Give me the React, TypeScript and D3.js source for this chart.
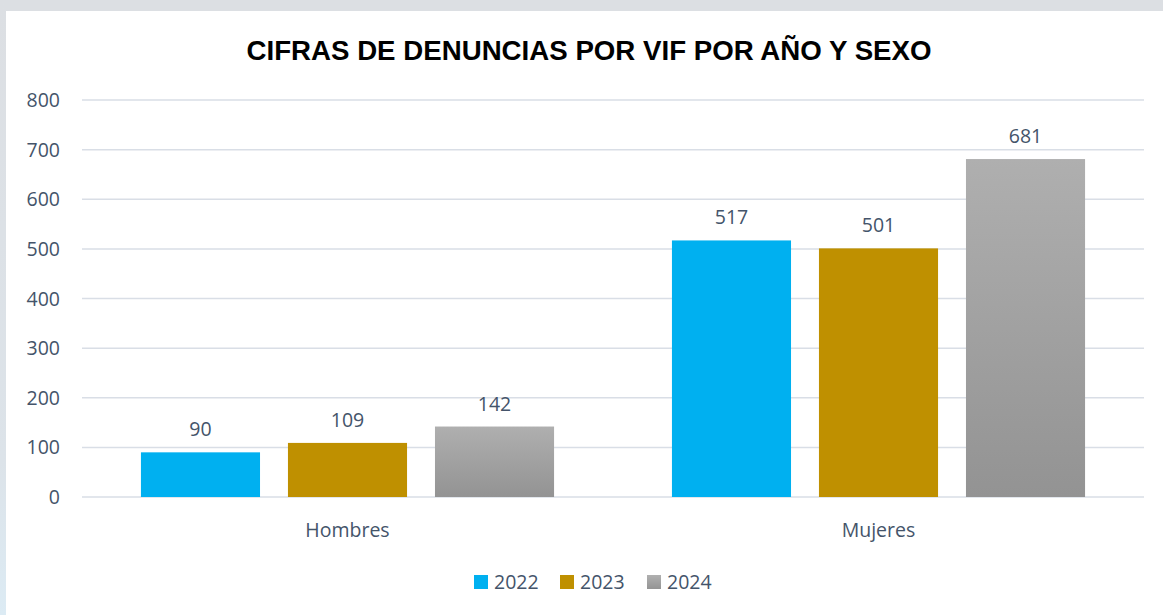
import React from "react";
import * as d3 from "d3";

const categories = ["Hombres", "Mujeres"];
const years = ["2022", "2023", "2024"];
const values2022 = [90, 517];
const values2023 = [109, 501];
const values2024 = [142, 681];
const yTicks = [0, 100, 200, 300, 400, 500, 600, 700, 800];
const title = "CIFRAS DE DENUNCIAS POR VIF POR AÑO Y SEXO";

const W = 1163;
const H = 615;
const plotLeft = 82;
const plotRight = 1144;
const plotTop = 100;
const plotBottom = 497;
const textColor = "#44546a";
const font = "'Open Sans', 'Noto Sans', sans-serif";
const fs = 19.5;

export default function App() {
  const series = [values2022, values2023, values2024];
  const x0 = d3.scaleBand().domain(categories).range([plotLeft, plotRight]).padding(0);
  const bw0 = x0.bandwidth();
  const x1 = d3
    .scaleBand()
    .domain(years)
    .range([bw0 * 0.111, bw0 * 0.889])
    .paddingInner(0.19)
    .paddingOuter(0);
  const y = d3.scaleLinear().domain([0, 800]).range([plotBottom, plotTop]);

  const fills = ["#00b0f0", "#bf9000", "url(#grayGrad)"];
  const legendFills = ["#00b0f0", "#bf9000", "url(#grayGradL)"];

  const legendX = [474, 560, 647];

  return (
    <svg
      width={W}
      height={H}
      style={{ position: "absolute", left: 0, top: 0, display: "block" }}
    >
      <defs>
        <linearGradient id="grayGrad" x1="0" y1="0" x2="0" y2="1">
          <stop offset="0%" stopColor="#afafaf" />
          <stop offset="100%" stopColor="#939393" />
        </linearGradient>
        <linearGradient id="grayGradL" x1="0" y1="0" x2="0" y2="1">
          <stop offset="0%" stopColor="#b0b0b0" />
          <stop offset="100%" stopColor="#949494" />
        </linearGradient>
        <linearGradient id="sideGrad" x1="0" y1="0" x2="0" y2="1">
          <stop offset="0%" stopColor="#dcdfe3" />
          <stop offset="75%" stopColor="#dce3e9" />
          <stop offset="100%" stopColor="#dcebf4" />
        </linearGradient>
      </defs>
      <rect x={0} y={0} width={W} height={H} fill="#ffffff" />
      <rect x={0} y={0} width={W} height={11} fill="#dcdfe3" />
      <rect x={0} y={0} width={6} height={H} fill="url(#sideGrad)" />
      <rect x={6} y={11} width={W - 6} height={H - 11} fill="#ffffff" />

      <text
        x={589}
        y={60}
        textAnchor="middle"
        fontFamily="'Liberation Sans', 'DejaVu Sans', sans-serif"
        fontWeight="bold"
        fontSize={27}
        fill="#000000"
        textLength={685}
        lengthAdjust="spacingAndGlyphs"
      >
        {title}
      </text>

      {yTicks.map((t) => (
        <g key={t}>
          <line
            x1={plotLeft}
            x2={plotRight}
            y1={y(t)}
            y2={y(t)}
            stroke="#d9dee6"
            strokeWidth={1.5}
          />
          <text
            x={60}
            y={y(t) + 7}
            textAnchor="end"
            fontFamily={font}
            fontSize={fs}
            fill={textColor}
          >
            {t}
          </text>
        </g>
      ))}

      {categories.map((c, ci) => (
        <g key={c}>
          {years.map((yr, si) => {
            const v = series[si][ci];
            const bx = (x0(c) as number) + (x1(yr) as number);
            const bw = x1.bandwidth();
            return (
              <g key={yr}>
                <rect
                  x={bx}
                  y={y(v)}
                  width={bw}
                  height={plotBottom - y(v)}
                  fill={fills[si]}
                />
                <text
                  x={bx + bw / 2}
                  y={y(v) - 16}
                  textAnchor="middle"
                  fontFamily={font}
                  fontSize={fs}
                  fill={textColor}
                >
                  {v}
                </text>
              </g>
            );
          })}
          <text
            x={(x0(c) as number) + bw0 / 2}
            y={537}
            textAnchor="middle"
            fontFamily={font}
            fontSize={fs}
            fill={textColor}
          >
            {c}
          </text>
        </g>
      ))}

      {years.map((yr, si) => (
        <g key={yr}>
          <rect x={legendX[si]} y={575} width={14} height={14} fill={legendFills[si]} />
          <text
            x={legendX[si] + 20}
            y={589}
            fontFamily={font}
            fontSize={fs}
            fill={textColor}
          >
            {yr}
          </text>
        </g>
      ))}
    </svg>
  );
}
